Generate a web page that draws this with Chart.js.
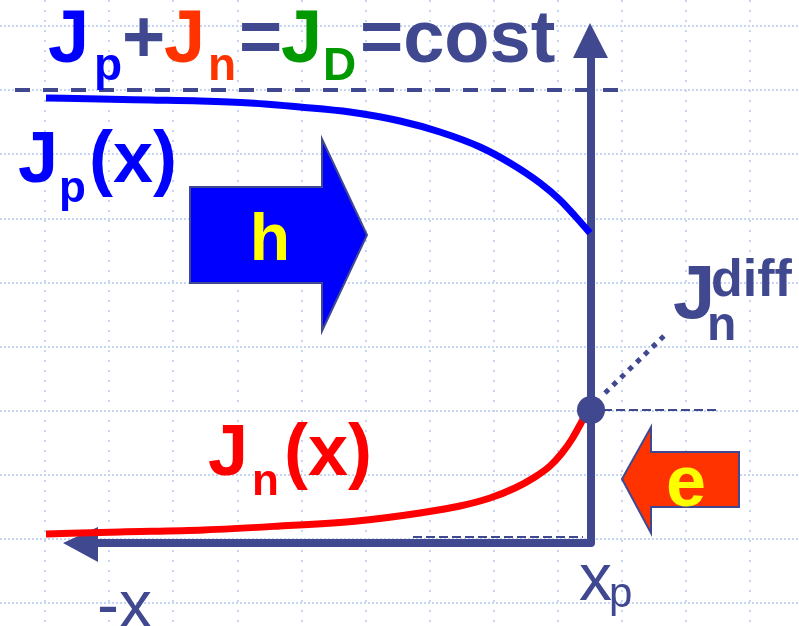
<!DOCTYPE html>
<html>
<head>
<meta charset="utf-8">
<script src="https://cdn.jsdelivr.net/npm/chart.js@4.4.0/dist/chart.umd.min.js"></script>
<style>
  html, body { margin: 0; padding: 0; background: #fff; }
  #wrap { width: 799px; height: 626px; position: relative; }
</style>
</head>
<body>
<div id="wrap"><canvas id="diagram"></canvas></div>
<script>
// diagram space: 0..799 across, 0..626 down (same as the slide)
const gridX = [45, 109, 173, 238, 302, 366, 430, 494, 558, 622, 686, 750];
const gridY = [26, 90, 154, 219, 283, 347, 411, 475, 539, 603];

// J_p(x) - hole current
const jpX = [46, 100, 150, 200, 250, 300, 350, 400, 440, 480, 510, 540, 560, 575, 590];
const jpY = [98, 99, 100, 101, 103, 107, 112, 121, 132, 147, 163, 183, 200, 216, 233];

// J_n(x) - electron current
const jnX = [46, 120, 204, 280, 357, 420, 460, 490, 515, 535, 550, 562, 572, 581, 588];
const jnY = [534, 532, 530, 526, 521, 513, 506, 498, 488, 477, 466, 453, 439, 423, 410];

// axes and levels
const xp = 591;        // edge x_p
const axisY = 543;     // x axis level
const axisTop = 23;    // tip of vertical arrow
const axisLeft = 63;   // tip of -x arrow
const jTotal = 90;     // J_D = cost
const jnEdge = 410;    // J_n at x_p

const navy = '#404890';
const blue = '#0000ff';
const red = '#ff0000';
const orange = '#ff3300';
const green = '#009900';
const yellow = '#ffff00';
const font = '"Liberation Sans", Arial, sans-serif';

const pts = (xs, ys) => xs.map((x, i) => ({ x: x, y: ys[i] }));

const sketch = {
    id: 'sketch',
    beforeDatasetsDraw(chart) {
        const ctx = chart.ctx;
        const X = v => chart.scales.x.getPixelForValue(v);
        const Y = v => chart.scales.y.getPixelForValue(v);
        const poly = (p, fill, stroke) => {
            ctx.beginPath();
            p.forEach((q, i) => i ? ctx.lineTo(X(q[0]), Y(q[1])) : ctx.moveTo(X(q[0]), Y(q[1])));
            ctx.closePath();
            ctx.fillStyle = fill;
            ctx.fill();
            if (stroke) { ctx.strokeStyle = stroke; ctx.lineWidth = 2; ctx.stroke(); }
        };
        ctx.save();
        // arrow heads of the axes
        poly([[xp - 1, axisTop], [xp + 17, axisTop + 35], [xp - 18, axisTop + 35]], navy);
        poly([[axisLeft, axisY], [axisLeft + 35, axisY - 16], [axisLeft + 35, axisY + 19]], navy);
        ctx.restore();
        chart.$poly = poly;
    },
    afterDatasetsDraw(chart) {
        const ctx = chart.ctx;
        const X = v => chart.scales.x.getPixelForValue(v);
        const Y = v => chart.scales.y.getPixelForValue(v);
        const poly = chart.$poly;
        const txt = (s, x, y, size, color, weight, align) => {
            ctx.font = (weight || 'bold') + ' ' + size + 'px ' + font;
            ctx.fillStyle = color;
            ctx.textAlign = align || 'left';
            ctx.textBaseline = 'alphabetic';
            ctx.fillText(s, X(x), Y(y));
        };
        ctx.save();
        // block arrows: holes and electrons
        poly([[190, 187], [322, 187], [322, 139], [367, 235], [322, 331], [322, 283], [190, 283]], blue, navy);
        poly([[739, 452], [651, 452], [651, 427], [622, 479], [651, 533], [651, 507], [739, 507]], orange, navy);
        txt('h', 270, 260, 66, yellow, 'bold', 'center');
        txt('e', 686, 506, 72, yellow, 'bold', 'center');

        // title
        txt('J', 48, 62, 74, blue);
        txt('p', 94, 80, 46, blue);
        txt('+', 122, 62, 74, navy);
        txt('J', 164, 62, 74, orange);
        txt('n', 208, 80, 46, orange);
        txt('=', 239, 62, 74, navy);
        txt('J', 281, 62, 74, green);
        txt('D', 323, 80, 46, green);
        txt('=cost', 360, 62, 74, navy);

        // curve labels
        txt('J', 18, 182, 72, blue);
        txt('p', 59, 202, 44, blue);
        txt('(x)', 89, 182, 72, blue);
        txt('J', 208, 475, 72, red);
        txt('n', 252, 495, 44, red);
        txt('(x)', 284, 475, 72, red);
        txt('J', 673, 318, 76, navy);
        txt('diff', 711, 296, 52, navy);
        txt('n', 707, 340, 48, navy);

        // axis labels
        txt('x', 579, 600, 66, navy, 'normal');
        txt('p', 609, 607, 42, navy, 'normal');
        txt('-x', 97, 627, 66, navy, 'normal');
        ctx.restore();
    }
};

const lineSet = (label, data, color, width, order, extra) => Object.assign({
    label: label,
    data: data,
    showLine: true,
    borderColor: color,
    borderWidth: width,
    pointRadius: 0,
    order: order
}, extra || {});

new Chart(document.getElementById('diagram'), {
    type: 'scatter',
    data: {
        datasets: [
            lineSet('x_p', [{ x: xp, y: jnEdge }], navy, 0, 0,
                { showLine: false, pointRadius: 14, pointBackgroundColor: navy, pointBorderWidth: 0 }),
            lineSet('Jn(x)', pts(jnX, jnY), red, 7, 1, { cubicInterpolationMode: 'monotone' }),
            lineSet('Jp(x)', pts(jpX, jpY), blue, 7, 2, { cubicInterpolationMode: 'monotone' }),
            lineSet('Jn diff', [{ x: 605, y: 393 }, { x: 668, y: 332 }], navy, 5, 3, { borderDash: [5, 6] }),
            lineSet('axes', [{ x: xp, y: axisTop + 30 }, { x: xp, y: axisY }, { x: axisLeft + 30, y: axisY }],
                navy, 8, 4, { borderJoinStyle: 'round' }),
            lineSet('JD', [{ x: 15, y: jTotal }, { x: 618, y: jTotal }], navy, 4, 5, { borderDash: [15, 13] }),
            lineSet('edge', [{ x: 603, y: jnEdge }, { x: 720, y: jnEdge }], navy, 2, 5, { borderDash: [9, 4] }),
            lineSet('base', [{ x: 413, y: 537 }, { x: 583, y: 537 }], navy, 2, 5, { borderDash: [9, 4] })
        ]
    },
    options: {
        responsive: true,
        maintainAspectRatio: false,
        animation: false,
        layout: { padding: 0, autoPadding: false },
        plugins: { legend: { display: false }, tooltip: { enabled: false } },
        scales: {
            x: {
                type: 'linear', min: 0, max: 799,
                afterBuildTicks: s => { s.ticks = gridX.map(v => ({ value: v })); },
                afterFit: s => { s.height = 0; },
                ticks: { display: false },
                grid: { color: '#c6d5f5', lineWidth: 2, drawTicks: false },
                border: { display: false, dash: [2, 8] }
            },
            y: {
                type: 'linear', min: 0, max: 626, reverse: true,
                afterBuildTicks: s => { s.ticks = gridY.map(v => ({ value: v })); },
                afterFit: s => { s.width = 0; },
                ticks: { display: false },
                grid: { color: '#c6d5f5', lineWidth: 2, drawTicks: false },
                border: { display: false, dash: [2, 2] }
            }
        }
    },
    plugins: [sketch]
});
</script>
</body>
</html>
